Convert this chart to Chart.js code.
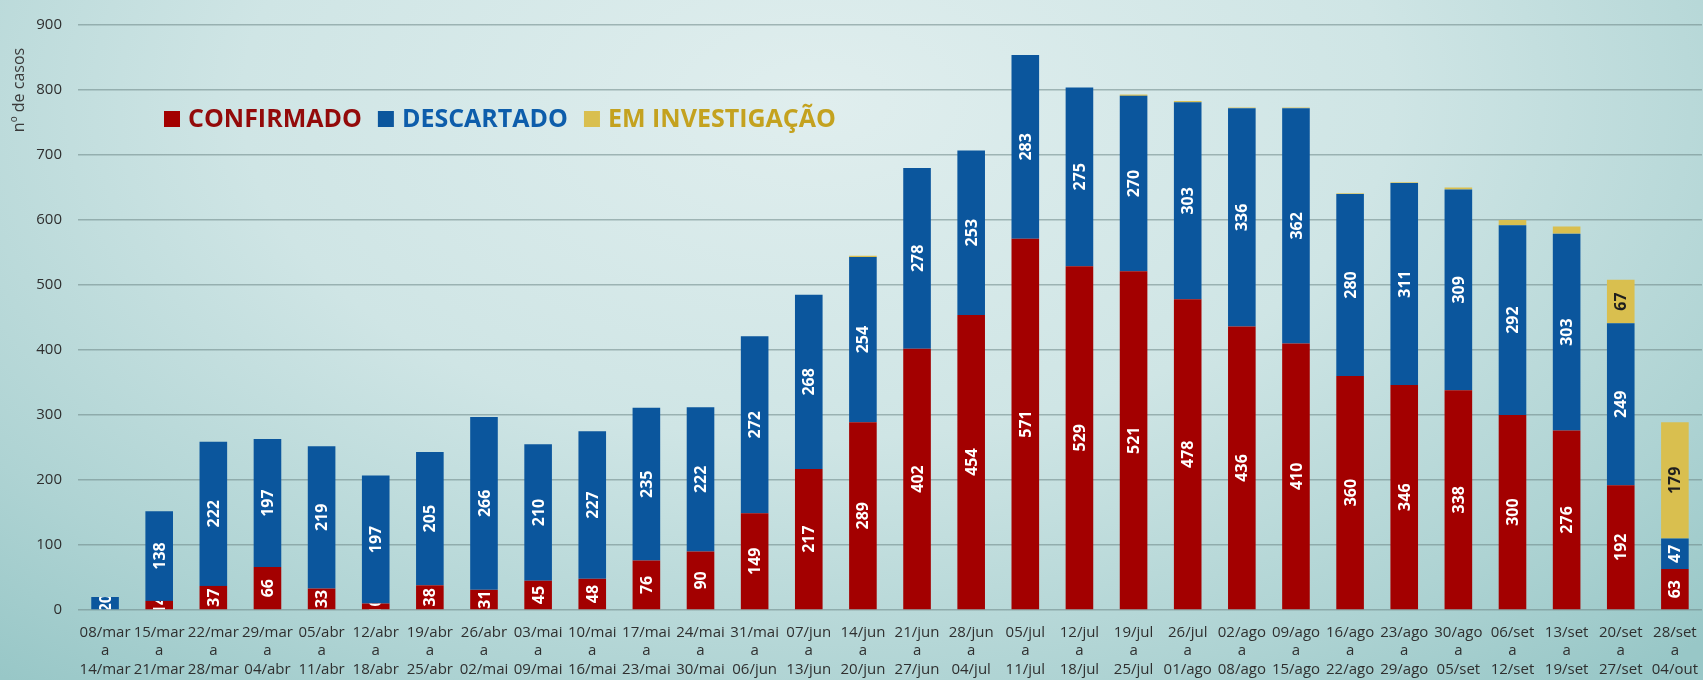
<!DOCTYPE html>
<html>
<head>
<meta charset="utf-8">
<script src="https://cdn.jsdelivr.net/npm/chart.js@4.4.1/dist/chart.umd.min.js"></script>
<style>
  html, body { margin: 0; padding: 0; overflow: hidden; }
  body {
    width: 1703px; height: 680px;
    background: radial-gradient(ellipse 75% 110% at 48% 15%, #e0eeee 0%, #cfe5e5 45%, #aed3d3 80%, #98c7c7 100%);
  }
  #wrap { position: relative; width: 1703px; height: 680px; }
</style>
</head>
<body>
<div id="wrap"><canvas id="casosChart"></canvas></div>
<script>
// semanas (início / fim)
var weekStart = ["08/mar","15/mar","22/mar","29/mar","05/abr","12/abr","19/abr","26/abr","03/mai","10/mai",
                 "17/mai","24/mai","31/mai","07/jun","14/jun","21/jun","28/jun","05/jul","12/jul","19/jul",
                 "26/jul","02/ago","09/ago","16/ago","23/ago","30/ago","06/set","13/set","20/set","28/set"];
var weekEnd   = ["14/mar","21/mar","28/mar","04/abr","11/abr","18/abr","25/abr","02/mai","09/mai","16/mai",
                 "23/mai","30/mai","06/jun","13/jun","20/jun","27/jun","04/jul","11/jul","18/jul","25/jul",
                 "01/ago","08/ago","15/ago","22/ago","29/ago","05/set","12/set","19/set","27/set","04/out"];

var confirmado   = [0, 14, 37, 66, 33, 10, 38, 31, 45, 48, 76, 90, 149, 217, 289, 402, 454, 571, 529, 521,
                    478, 436, 410, 360, 346, 338, 300, 276, 192, 63];
var descartado   = [20, 138, 222, 197, 219, 197, 205, 266, 210, 227, 235, 222, 272, 268, 254, 278, 253, 283, 275, 270,
                    303, 336, 362, 280, 311, 309, 292, 303, 249, 47];
var investigacao = [0, 0, 0, 0, 0, 0, 0, 0, 0, 0, 0, 0, 0, 0, 2, 0, 0, 0, 0, 2,
                    2, 1, 1, 1, 1, 3, 8, 11, 67, 179];

var yTicks = [0, 100, 200, 300, 400, 500, 600, 700, 800, 900];

var labels = weekStart.map(function (s, i) { return [s, "a", weekEnd[i]]; });

var RED = "#a30000", BLUE = "#0b569d", GOLD = "#d9bf4f";

// ✅ rótulos de valor dentro das barras
var barLabels = {
    id: "barLabels",
    afterDatasetsDraw: function (chart) {
        var ctx = chart.ctx;
        chart.data.datasets.forEach(function (ds, di) {
            var meta = chart.getDatasetMeta(di);
            meta.data.forEach(function (bar, i) {
                var v = ds.data[i];
                if (!v || v <= 0) return;
                if (di === 2 && v < 20) return;
                var top = Math.min(bar.y, bar.base), bot = Math.max(bar.y, bar.base);
                ctx.save();
                ctx.beginPath();
                ctx.rect(bar.x - bar.width / 2, top, bar.width, bot - top);
                ctx.clip();
                ctx.translate(bar.x + 1, (top + bot) / 2);
                ctx.rotate(-Math.PI / 2);
                ctx.font = "bold 16px 'Open Sans'";
                ctx.fillStyle = di === 2 ? "#1e1e1e" : "#ffffff";
                ctx.textAlign = "center";
                ctx.textBaseline = "middle";
                ctx.fillText(String(v), 0, 0);
                ctx.restore();
            });
        });
    }
};

// ✅ legenda dentro da área do gráfico + título do eixo
var inlineLegend = {
    id: "inlineLegend",
    afterDraw: function (chart) {
        var ctx = chart.ctx;
        var items = [
            { text: "CONFIRMADO", box: RED, color: "#930a0a" },
            { text: "DESCARTADO", box: BLUE, color: "#0d5dab" },
            { text: "EM INVESTIGAÇÃO", box: GOLD, color: "#c4a21f" }
        ];
        var x = 164, y = 119;
        ctx.save();
        ctx.font = "bold 25px 'Open Sans'";
        ctx.textBaseline = "middle";
        items.forEach(function (it) {
            ctx.fillStyle = it.box;
            ctx.fillRect(x, y - 8, 16, 16);
            x += 24;
            ctx.fillStyle = it.color;
            ctx.fillText(it.text, x, y + 1);
            x += ctx.measureText(it.text).width + 16;
        });
        ctx.restore();

        ctx.save();
        ctx.translate(19, 90);
        ctx.rotate(-Math.PI / 2);
        ctx.font = "16px 'Open Sans'";
        ctx.fillStyle = "#3a3a3a";
        ctx.textAlign = "center";
        ctx.textBaseline = "middle";
        ctx.fillText("nº de casos", 0, 0);
        ctx.restore();
    }
};

document.addEventListener("DOMContentLoaded", function () {
    var canvas = document.getElementById("casosChart");
    if (!canvas) { console.error("❌ Canvas not found!"); return; }

    new Chart(canvas.getContext("2d"), {
        type: "bar",
        data: {
            labels: labels,
            datasets: [
                { label: "CONFIRMADO", data: confirmado, backgroundColor: RED },
                { label: "DESCARTADO", data: descartado, backgroundColor: BLUE },
                { label: "EM INVESTIGAÇÃO", data: investigacao, backgroundColor: GOLD }
            ]
        },
        options: {
            responsive: true,
            maintainAspectRatio: false,
            animation: false,
            layout: { padding: { top: 22, right: 0, left: 0, bottom: 0 } },
            datasets: { bar: { categoryPercentage: 1.0, barPercentage: 0.51 } },
            plugins: { legend: { display: false }, tooltip: { enabled: false } },
            scales: {
                x: {
                    stacked: true,
                    grid: { display: false },
                    border: { display: false },
                    ticks: {
                        color: "#2f2f2f",
                        font: { family: "'Open Sans'", size: 15, lineHeight: 1.25 },
                        maxRotation: 0, minRotation: 0, autoSkip: false, padding: 5
                    },
                    afterFit: function (scale) { scale.height = 70; }
                },
                y: {
                    stacked: true,
                    min: 0, max: 900,
                    afterBuildTicks: function (scale) {
                        scale.ticks = yTicks.map(function (v) { return { value: v }; });
                    },
                    grid: { color: "rgba(110,135,135,0.55)", lineWidth: 1.5, drawTicks: false },
                    border: { display: false },
                    ticks: {
                        color: "#2f2f2f",
                        font: { family: "'Open Sans'", size: 15 },
                        padding: 16
                    },
                    afterFit: function (scale) { scale.width = 78; }
                }
            }
        },
        plugins: [barLabels, inlineLegend]
    });
});
</script>
</body>
</html>
